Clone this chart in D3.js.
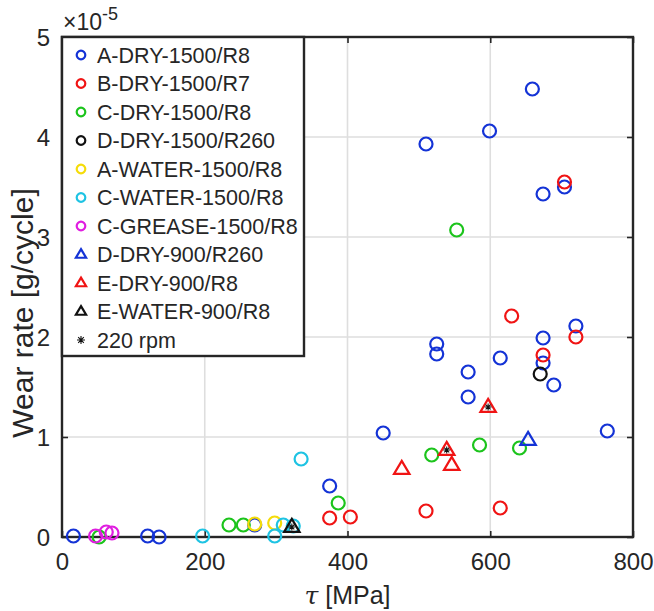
<!DOCTYPE html>
<html>
<head>
<meta charset="utf-8">
<script src="https://cdn.jsdelivr.net/npm/d3@7"></script>
<style>
  body { margin: 0; background: #fff; }
  svg text { font-family: "Liberation Sans", Arial, sans-serif; fill: #262626; }
</style>
</head>
<body>
<div id="chart"></div>
<script>
// data: [tau MPa, wear rate x1e-5 g/cycle]
const aDry = [[16,0.01],[120,0.01],[136,0],[270,0.12],[375,0.51],[450,1.04],[510,3.93],[525,1.93],[525,1.83],[569,1.65],[569,1.40],[599,4.06],[614,1.79],[659,4.48],[674,3.43],[674,1.99],[674,1.74],[689,1.52],[704,3.50],[720,2.11],[764,1.06]];
const bDry = [[375,0.19],[404,0.20],[510,0.26],[614,0.29],[630,2.21],[674,1.82],[704,3.55],[720,2.00]];
const cDry = [[52,0],[234,0.12],[254,0.12],[387,0.34],[518,0.82],[553,3.07],[585,0.92],[641,0.89]];
const dDry1500 = [[670,1.63]];
const aWater = [[270,0.13],[298,0.14]];
const cWater = [[197,0.01],[298,0.01],[310,0.12],[324,0.11],[335,0.78]];
const cGrease = [[47,0.01],[62,0.05],[70,0.04]];
const dDry900 = [[653,0.97]];
const eDry900 = [[476,0.68],[539,0.87],[546,0.72],[597,1.30]];
const eWater900 = [[322,0.10]];
const rpm220 = [[322,0.10],[539,0.87],[597,1.30]];

const xTicks = [0, 200, 400, 600, 800];
const yTicks = [0, 1, 2, 3, 4, 5];

const series = [
  { name: "A-DRY-1500/R8", data: aDry, shape: "circle", color: "#1433d6" },
  { name: "B-DRY-1500/R7", data: bDry, shape: "circle", color: "#f01414" },
  { name: "C-DRY-1500/R8", data: cDry, shape: "circle", color: "#1cc41c" },
  { name: "D-DRY-1500/R260", data: dDry1500, shape: "circle", color: "#111111" },
  { name: "A-WATER-1500/R8", data: aWater, shape: "circle", color: "#f5dc0a" },
  { name: "C-WATER-1500/R8", data: cWater, shape: "circle", color: "#1ec3e3" },
  { name: "C-GREASE-1500/R8", data: cGrease, shape: "circle", color: "#e01ee0" },
  { name: "D-DRY-900/R260", data: dDry900, shape: "triangle", color: "#1433d6" },
  { name: "E-DRY-900/R8", data: eDry900, shape: "triangle", color: "#f01414" },
  { name: "E-WATER-900/R8", data: eWater900, shape: "triangle", color: "#111111" },
  { name: "220 rpm", data: rpm220, shape: "star", color: "#111111" }
];

const W = 654, H = 611;
const margin = { top: 37, right: 21, bottom: 74, left: 62 };
const width = W - margin.left - margin.right,
      height = H - margin.top - margin.bottom;

const svg = d3.select("#chart").append("svg")
  .attr("width", W).attr("height", H);
const g = svg.append("g")
  .attr("transform", "translate(" + margin.left + "," + margin.top + ")");

const x = d3.scaleLinear().domain([0, 800]).range([0, width]);
const y = d3.scaleLinear().domain([0, 5]).range([height, 0]);

// grid
g.append("g").selectAll("line").data(xTicks.slice(1, -1)).enter().append("line")
  .attr("x1", d => x(d)).attr("x2", d => x(d)).attr("y1", 0).attr("y2", height)
  .style("stroke", "#dedede").style("stroke-width", 1.6);
g.append("g").selectAll("line").data(yTicks.slice(1, -1)).enter().append("line")
  .attr("y1", d => y(d)).attr("y2", d => y(d)).attr("x1", 0).attr("x2", width)
  .style("stroke", "#dedede").style("stroke-width", 1.6);

// axes with inward ticks
const xAxis = g.append("g").attr("transform", `translate(0,${height})`)
  .call(d3.axisBottom(x).tickValues(xTicks).tickSizeInner(-6).tickSizeOuter(0).tickPadding(16));
const yAxis = g.append("g")
  .call(d3.axisLeft(y).tickValues(yTicks).tickFormat(d3.format("d")).tickSizeInner(-6).tickSizeOuter(0).tickPadding(12));
g.append("g").call(d3.axisRight(y).tickValues(yTicks).tickSizeInner(-6).tickSizeOuter(0).tickFormat(""))
  .attr("transform", `translate(${width},0)`);
g.append("g").call(d3.axisTop(x).tickValues(xTicks).tickSizeInner(-6).tickSizeOuter(0).tickFormat(""));
g.selectAll(".domain").remove();
g.selectAll(".tick line").style("stroke", "#262626").style("stroke-width", 1.6);
xAxis.selectAll("text").style("font-size", "24px");
yAxis.selectAll("text").style("font-size", "24px").attr("dy", "0.36em");

// frame
g.append("rect").attr("width", width).attr("height", height)
  .style("fill", "none").style("stroke", "#262626").style("stroke-width", 2.4);

// markers
function drawMark(sel, shape, color, r) {
  if (shape === "circle") {
    sel.append("circle").attr("r", r)
      .style("fill", "none").style("stroke", color).style("stroke-width", 2.2);
  } else if (shape === "triangle") {
    const s = r * 1.25;
    sel.append("path").attr("d", `M0,${-s}L${s * 0.95},${s * 0.6}L${-s * 0.95},${s * 0.6}Z`)
      .style("fill", "none").style("stroke", color).style("stroke-width", 2.2)
      .style("stroke-linejoin", "miter");
  } else {
    const s = r;
    let d = "";
    for (let i = 0; i < 4; i++) {
      const a = i * Math.PI / 4;
      d += `M${-s * Math.cos(a)},${-s * Math.sin(a)}L${s * Math.cos(a)},${s * Math.sin(a)}`;
    }
    sel.append("path").attr("d", d).style("stroke", color).style("stroke-width", 1.1);
  }
}

const plot = g.append("g");
series.forEach(s => {
  s.data.forEach(p => {
    const m = plot.append("g").attr("transform", `translate(${x(p[0])},${y(p[1])})`);
    drawMark(m, s.shape, s.color, s.shape === "star" ? 3.5 : 6.5);
  });
});

// legend
const legW = 242, legRow = 28.5;
const leg = g.append("g");
leg.append("rect").attr("x", 0).attr("y", 0).attr("width", legW).attr("height", 319)
  .style("fill", "#fff").style("stroke", "#262626").style("stroke-width", 2.4);
series.forEach((s, i) => {
  const row = leg.append("g").attr("transform", `translate(19,${18 + i * legRow})`);
  drawMark(row.append("g"), s.shape, s.color, s.shape === "star" ? 4 : 4.3);
  row.append("text").attr("x", 16).attr("dy", "0.36em").style("font-size", "21.5px").text(s.name);
});

// exponent label
const ex = svg.append("text").attr("x", 63).attr("y", 30).style("font-size", "23px");
ex.append("tspan").text("\u00d710");
ex.append("tspan").attr("dy", -10).style("font-size", "18px").text("-5");

// axis titles
const xt = svg.append("text").attr("x", margin.left + width / 2).attr("y", 604)
  .style("text-anchor", "middle").style("font-size", "25px");
xt.append("tspan").style("font-family", "'DejaVu Serif', serif").style("font-style", "italic").text("\u03c4");
xt.append("tspan").text(" [MPa]");

svg.append("text")
  .attr("transform", `translate(33,313) rotate(-90)`)
  .style("text-anchor", "middle").style("font-size", "30px")
  .text("Wear rate [g/cycle]");
</script>
</body>
</html>
